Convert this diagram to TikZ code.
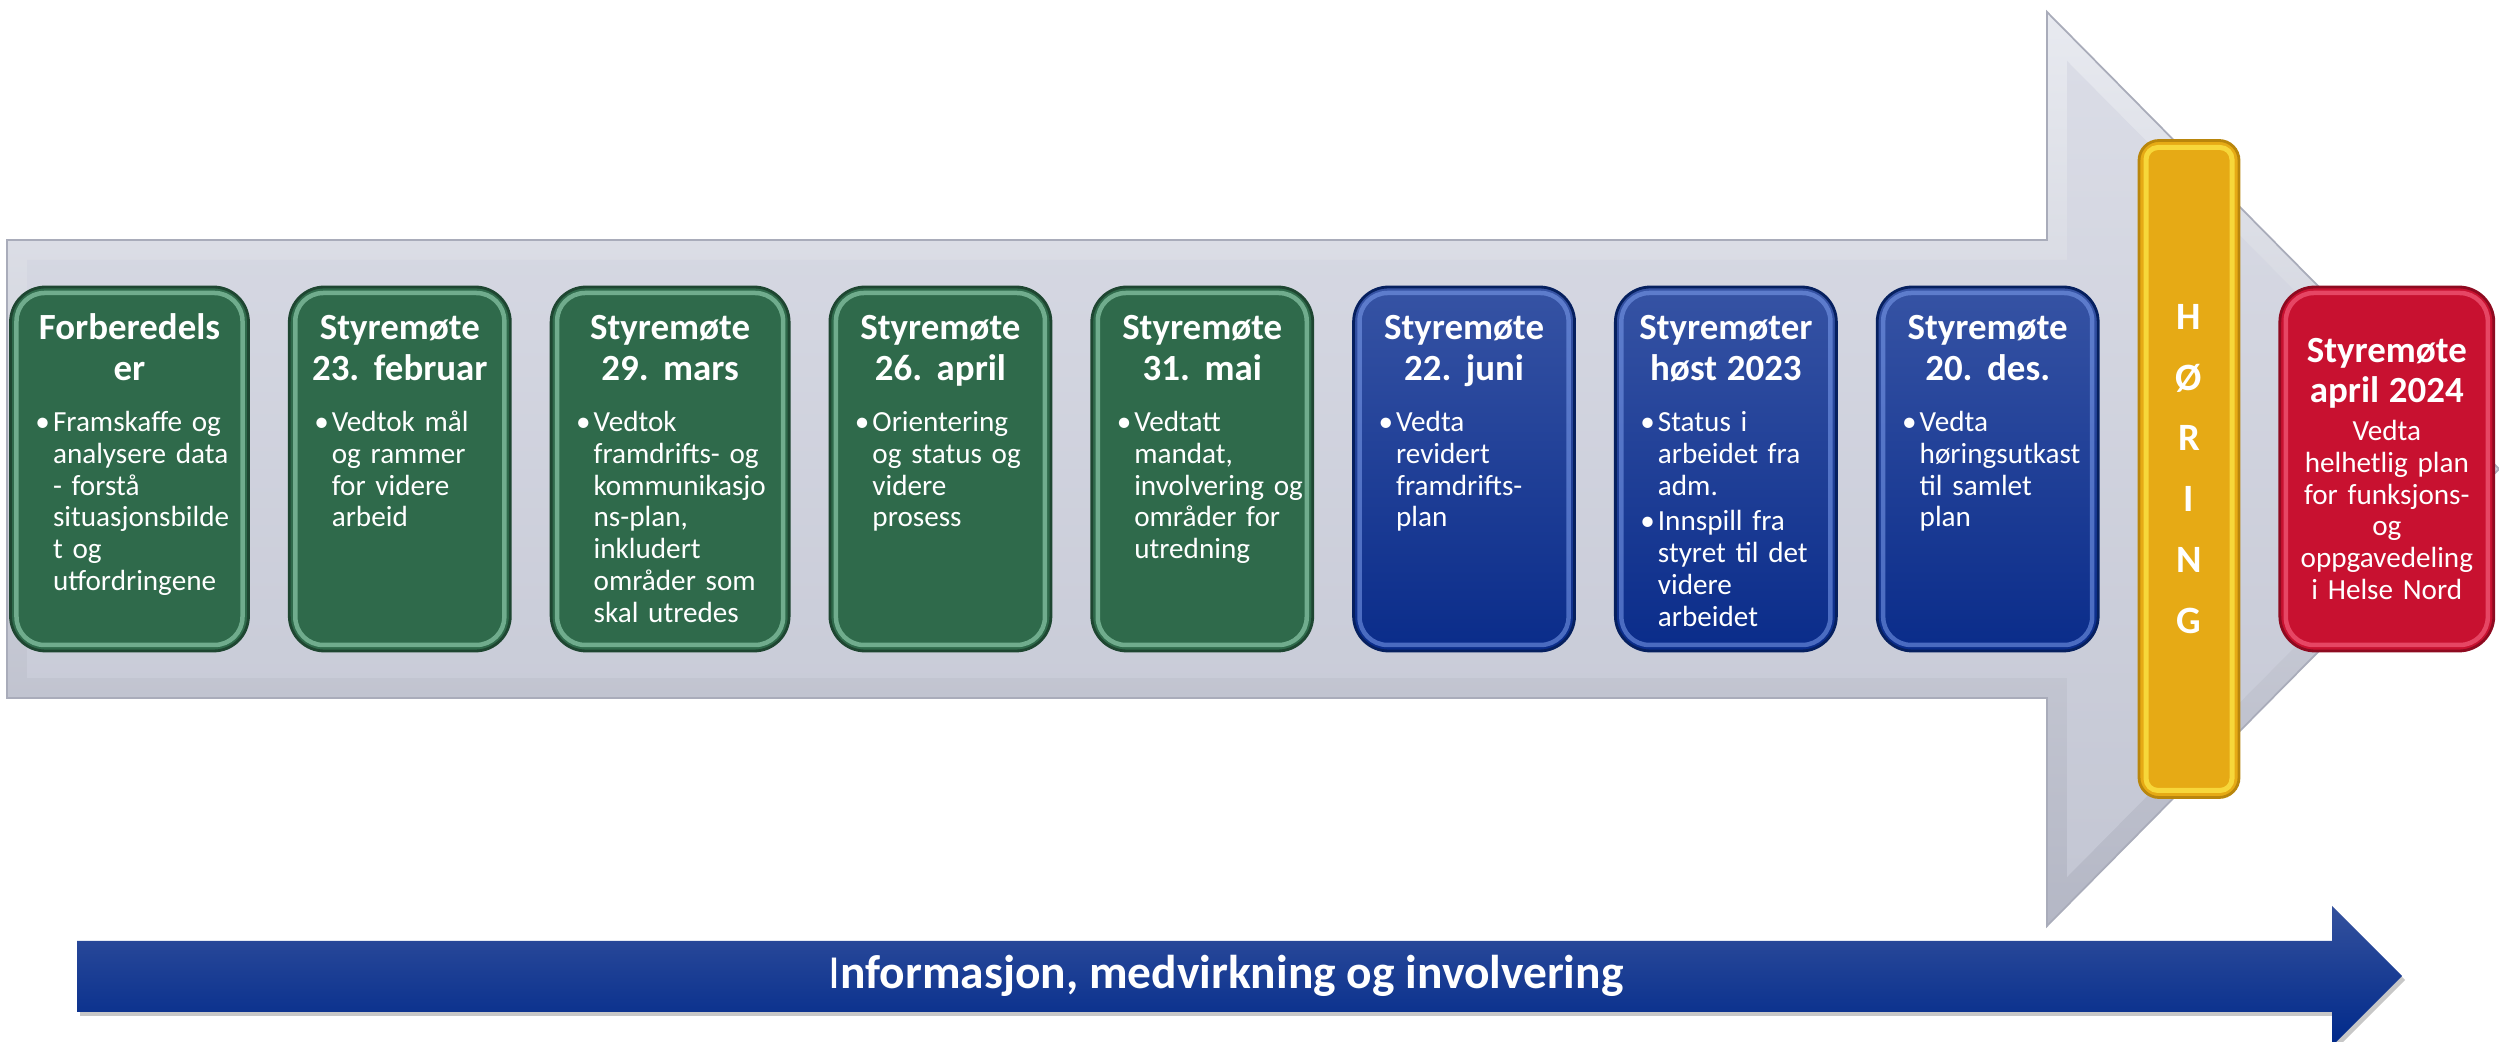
\documentclass[tikz,border=0pt]{standalone}
\usepackage{fontspec}
\setmainfont{Carlito}
\usetikzlibrary{positioning, calc}

\definecolor{arrowtop}{HTML}{DADCE6}
\definecolor{arrowbottom}{HTML}{C4C7D4}
\definecolor{arrowlight}{HTML}{E8EAF0}
\definecolor{arrowdark}{HTML}{B4B7C5}
\definecolor{arrowedge}{HTML}{A9ACBA}
\definecolor{greenfill}{HTML}{2F6A4B}
\definecolor{greenedge}{HTML}{1E4631}
\definecolor{greenlight}{HTML}{A6E4C4}
\definecolor{bluetop}{HTML}{3653A4}
\definecolor{bluefill}{HTML}{0A2C8A}
\definecolor{blueedge}{HTML}{06205F}
\definecolor{bluelight}{HTML}{7E9FEE}
\definecolor{goldfill}{HTML}{E6AA15}
\definecolor{goldedge}{HTML}{B9860C}
\definecolor{goldlight}{HTML}{FFEB4A}
\definecolor{redfill}{HTML}{C81130}
\definecolor{rededge}{HTML}{8E0A20}
\definecolor{redlight}{HTML}{FF7390}
\definecolor{navytop}{HTML}{34519D}
\definecolor{navy}{HTML}{00298A}

% centred headline on top of each box
\newcommand{\tittel}[1]{{\fontsize{10.5}{11.4}\selectfont\bfseries
  \leftskip=-0.5cm plus 1fil\rightskip=-0.5cm plus 1fil\parfillskip=0pt\relax
  #1\par}\vspace{0.19cm}}
% one bullet with its lines hanging under the text
\newcommand{\punkt}[1]{\noindent\mbox{\textbullet\hspace{0.03cm}\begin{tabular}[t]{@{}l@{}}#1\end{tabular}}\par}

\begin{document}
\begin{tikzpicture}[node distance=0.38cm]

    \tikzstyle{stage} = [rounded corners=0.35cm, text=white, text width=1.71cm, align=left, inner xsep=0.25cm, inner ysep=0pt, text height=0.53cm, text depth=3.11cm, font=\fontsize{8.3}{9.1}\selectfont]
    \tikzstyle{wide} = [text width=1.88cm]
    \tikzstyle{greenstage} = [stage, draw=greenedge, line width=0.8pt, fill=greenfill, path picture={\draw[greenlight, line width=0.045cm, opacity=0.55, rounded corners=0.28cm] ($(path picture bounding box.south west)+(0.06,0.06)$) rectangle ($(path picture bounding box.north east)+(-0.06,-0.06)$);}]
    \tikzstyle{bluestage} = [stage, draw=blueedge, line width=0.8pt, top color=bluetop, middle color=bluefill, bottom color=bluefill, path picture={\draw[bluelight, line width=0.045cm, opacity=0.55, rounded corners=0.28cm] ($(path picture bounding box.south west)+(0.06,0.06)$) rectangle ($(path picture bounding box.north east)+(-0.06,-0.06)$);}]
    \tikzstyle{hearing} = [rounded corners=0.2cm, draw=goldedge, line width=0.8pt, fill=goldfill, text=white, minimum width=1.0cm, minimum height=6.57cm, inner sep=0pt, align=center, font=\fontsize{11}{17.3}\selectfont\bfseries, path picture={\draw[goldlight, line width=0.05cm, opacity=0.7, rounded corners=0.12cm] ($(path picture bounding box.south west)+(0.07,0.07)$) rectangle ($(path picture bounding box.north east)+(-0.07,-0.07)$);}]
    \tikzstyle{finalstage} = [rounded corners=0.35cm, draw=rededge, line width=0.8pt, fill=redfill, text=white, text width=1.9cm, align=center, inner xsep=0.12cm, minimum height=3.64cm, font=\fontsize{8.3}{9.1}\selectfont, path picture={\draw[redlight, line width=0.045cm, opacity=0.55, rounded corners=0.28cm] ($(path picture bounding box.south west)+(0.06,0.06)$) rectangle ($(path picture bounding box.north east)+(-0.06,-0.06)$);}]

    \useasboundingbox (0,0) rectangle (24.99,10.42);

    % big grey arrow behind the boxes
    \shade[top color=arrowlight, bottom color=arrowdark, draw=arrowedge, line width=0.5pt]
        (0.07,8.02) -- (20.47,8.02) -- (20.47,10.30) -- (24.99,5.73) -- (20.47,1.16) -- (20.47,3.44) -- (0.07,3.44) -- cycle;
    \shade[top color=arrowtop, bottom color=arrowbottom]
        (0.27,7.82) -- (20.67,7.82) -- (20.67,9.81) -- (24.71,5.73) -- (20.67,1.65) -- (20.67,3.64) -- (0.27,3.64) -- cycle;

    % blue arrow along the bottom
    \fill[black, opacity=0.22] (0.80,0.97) -- (23.35,0.97) -- (23.35,1.32) -- (24.05,0.62) -- (23.35,-0.08) -- (23.35,0.26) -- (0.80,0.26) -- cycle;
    \shade[top color=navytop, middle color=navy, bottom color=navy]
        (0.77,1.01) -- (23.32,1.01) -- (23.32,1.36) -- (24.02,0.66) -- (23.32,-0.04) -- (23.32,0.30) -- (0.77,0.30) -- cycle;
    \node (info) at (12.26,0.66) [text=white, font=\fontsize{13.5}{16}\selectfont] {I\textbf{nformasjon, medvirkning og involvering}};

    % Boxes
    \node (b1) [greenstage, wide] at (1.295,5.73) {\tittel{Forberedels\\er}\punkt{Framskaffe og\\analysere data\\- forstå\\situasjonsbilde\\t og\\utfordringene}};
    \node (b2) [greenstage, right=of b1] {\tittel{Styremøte\\23. februar}\punkt{Vedtok mål\\og rammer\\for videre\\arbeid}};
    \node (b3) [greenstage, wide, right=of b2] {\tittel{Styremøte\\29. mars}\punkt{Vedtok\\framdrifts- og\\kommunikasjo\\ns-plan,\\inkludert\\områder som\\skal utredes}};
    \node (b4) [greenstage, right=of b3] {\tittel{Styremøte\\26. april}\punkt{Orientering\\og status og\\videre\\prosess}};
    \node (b5) [greenstage, right=of b4] {\tittel{Styremøte\\31. mai}\punkt{Vedtatt\\mandat,\\involvering og\\områder for\\utredning}};
    \node (b6) [bluestage, right=of b5] {\tittel{Styremøte\\22. juni}\punkt{Vedta\\revidert\\framdrifts-\\plan}};
    \node (b7) [bluestage, right=of b6] {\tittel{Styremøter\\høst 2023}\punkt{Status i\\arbeidet fra\\adm.}\punkt{Innspill fra\\styret til det\\videre\\arbeidet}};
    \node (b8) [bluestage, right=of b7] {\tittel{Styremøte\\20. des.}\punkt{Vedta\\høringsutkast\\til samlet\\plan}};
    \node (horing) [hearing, right=of b8] {H\\Ø\\R\\I\\N\\G};
    \node (b9) [finalstage, right=of horing] {{\fontsize{10.5}{11.4}\selectfont\bfseries Styremøte\\april 2024\par}\vspace{0.06cm}Vedta\\helhetlig plan\\for funksjons-\\og\\oppgavedeling\\i Helse Nord};

\end{tikzpicture}
\end{document}
